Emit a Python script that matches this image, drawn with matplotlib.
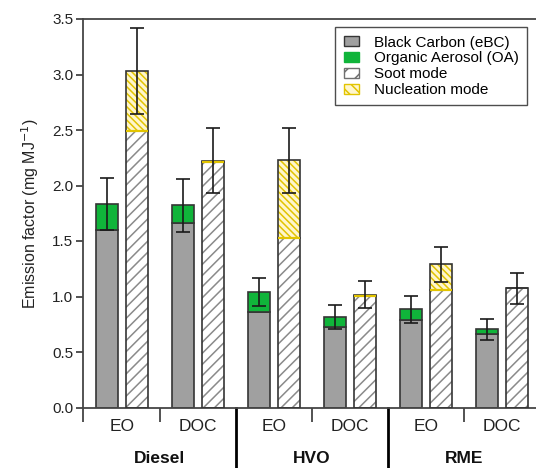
import matplotlib
matplotlib.use("Agg")
import matplotlib.pyplot as plt
import matplotlib.transforms as mtransforms
from matplotlib.patches import Patch
import numpy as np

plt.rcParams['font.family'] = ['Liberation Sans', 'DejaVu Sans']
plt.rcParams['hatch.linewidth'] = 1.1

# ---- data ----
fuels = ["Diesel", "HVO", "RME"]
conditions = ["EO", "DOC", "EO", "DOC", "EO", "DOC"]
bc = [1.60, 1.66, 0.864, 0.723, 0.789, 0.663]
oa = [0.235, 0.16, 0.175, 0.09, 0.096, 0.042]
chem_err = [0.235, 0.235, 0.127, 0.11, 0.12, 0.095]
soot = [2.49, 2.215, 1.526, 1.005, 1.06, 1.075]
nucleation = [0.54, 0.01, 0.70, 0.012, 0.23, 0.0]
size_err = [0.385, 0.29, 0.29, 0.125, 0.16, 0.14]
yticks = [0.0, 0.5, 1.0, 1.5, 2.0, 2.5, 3.0, 3.5]
legend_labels = ["Black Carbon (eBC)", "Organic Aerosol (OA)", "Soot mode", "Nucleation mode"]

# ---- style ----
c_bc = "#a0a0a0"
c_oa = "#10b43a"
c_soot_hatch = "#8a8a8a"
c_nuc_hatch = "#e2c400"
c_nuc_face = "#fff6cc"
c_edge = "#353535"

fig = plt.figure(figsize=(5.36, 4.68), dpi=100)
ax = fig.add_axes([83/536, 60.5/468, 453/536, 388.5/468])

x = np.arange(len(conditions))
off = 0.2
w = 0.29
bc = np.array(bc); oa = np.array(oa); soot = np.array(soot); nucleation = np.array(nucleation)

# chemical composition bars
ax.bar(x - off, bc, w, color=c_bc, edgecolor=c_edge, linewidth=1.2, zorder=2)
ax.bar(x - off, oa, w, bottom=bc, color=c_oa, edgecolor=c_edge, linewidth=1.2, zorder=2)
ax.errorbar(x - off, bc + oa, yerr=chem_err, fmt='none', ecolor='#1a1a1a',
            elinewidth=1.2, capsize=5, capthick=1.2, zorder=4)

# size mode bars
ax.bar(x + off, soot, w, color='white', edgecolor=c_soot_hatch, hatch='///', linewidth=0, zorder=2)
ax.bar(x + off, soot, w, fill=False, edgecolor=c_edge, linewidth=1.2, zorder=3)
ax.bar(x + off, nucleation, w, bottom=soot, color=c_nuc_face, edgecolor=c_nuc_hatch,
       hatch='\\\\\\\\\\', linewidth=0, zorder=2)
ax.bar(x + off, nucleation, w, bottom=soot, fill=False, edgecolor=c_edge, linewidth=1.2, zorder=3)
has_nuc = nucleation > 0
ax.hlines(soot[has_nuc], (x + off - w/2)[has_nuc], (x + off + w/2)[has_nuc],
          colors=c_nuc_hatch, linewidth=1.6, zorder=3.5)
ax.errorbar(x + off, soot + nucleation, yerr=size_err, fmt='none', ecolor='#1a1a1a',
            elinewidth=1.2, capsize=5, capthick=1.2, zorder=4)

ax.set_xlim(-0.51, 5.45)
ax.set_ylim(0, 3.5)
ax.set_yticks(yticks)
ax.set_yticklabels([f"{v:.1f}" for v in yticks], fontsize=11, color='#222222')
ax.tick_params(axis='y', length=5, width=1.2, color=c_edge, pad=2)

# x axis ticks at group boundaries
ax.set_xticks([-0.51, 0.5, 2.5, 4.5])
ax.set_xticklabels([])
ax.tick_params(axis='x', length=10, width=1.2, color=c_edge)

for s in ['left', 'bottom', 'top']:
    ax.spines[s].set_color('#454545')
    ax.spines[s].set_linewidth(1.3)
ax.spines['right'].set_visible(False)

trans = mtransforms.blended_transform_factory(ax.transData, ax.transAxes)
for i, c in enumerate(conditions):
    ax.text(x[i], -0.048, c, transform=trans, ha='center', va='center', fontsize=12.5, color='#222222')
for j, f in enumerate(fuels):
    ax.text(2*j + 0.5, -0.13, f, transform=trans, ha='center', va='center', fontsize=12.5,
            fontweight='bold', color='#111111')
for sep in [1.5, 3.5]:
    ax.plot([sep, sep], [0, -0.16], transform=trans, color='black', linewidth=2, clip_on=False)

ax.set_ylabel("Emission factor (mg MJ$^{-1}$)", fontsize=11.5, color='#222222', labelpad=8)

handles = [
    Patch(facecolor=c_bc, edgecolor=c_edge, linewidth=1.0),
    Patch(facecolor=c_oa, edgecolor=c_oa, linewidth=1.0),
    Patch(facecolor='white', edgecolor='#707070', hatch='//', linewidth=1.0),
    Patch(facecolor=c_nuc_face, edgecolor=c_nuc_hatch, hatch='\\\\\\', linewidth=1.0),
]
leg = ax.legend(handles, legend_labels, loc='upper right', bbox_to_anchor=(0.981, 0.979),
                fontsize=11, frameon=True, fancybox=False, edgecolor='#222222',
                handlelength=1.0, handleheight=0.65, handletextpad=1.0, borderpad=0.55,
                labelspacing=0.12, borderaxespad=0)
leg.get_frame().set_linewidth(1.0)

fig.savefig("out.png", dpi=100)
